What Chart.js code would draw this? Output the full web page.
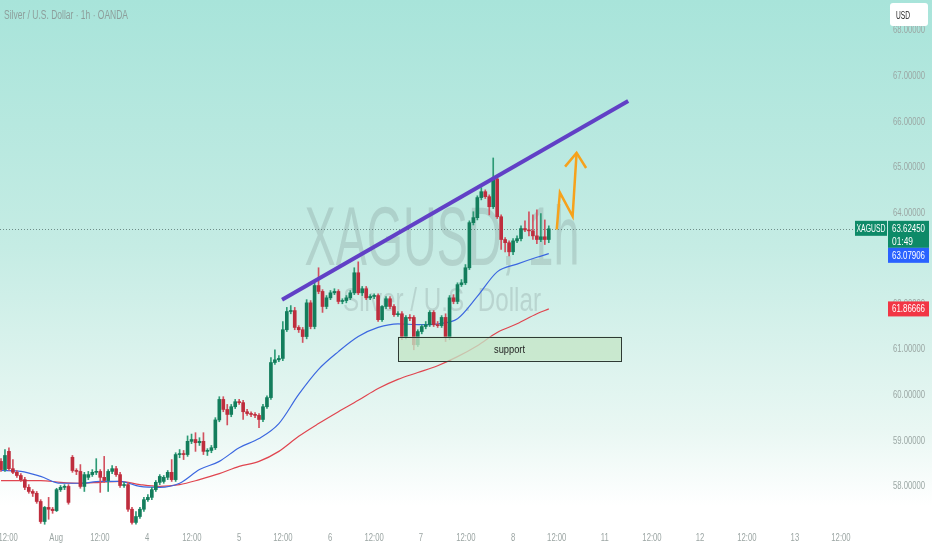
<!DOCTYPE html>
<html>
<head>
<meta charset="utf-8">
<script src="https://cdn.jsdelivr.net/npm/chart.js@4.4.1/dist/chart.umd.min.js"></script>
<style>
  html, body { margin: 0; padding: 0; background: #fff; }
  #contenedor { width: 932px; height: 550px; position: relative; }
</style>
</head>
<body>
<div id="contenedor"><canvas id="grafico"></canvas></div>
<script>
// Velas de 1h XAGUSD (OANDA)
const aperturas = [
  58.52, 58.34, 58.74, 58.36, 58.28, 58.21, 58.12, 57.95, 57.86, 57.82,
  57.64, 57.20, 57.51, 57.47, 57.44, 57.90, 57.95, 57.97, 58.61, 58.32,
  58.30, 57.97, 58.17, 58.23, 58.28, 58.30, 58.17, 58.10, 58.30, 58.36,
  58.23, 57.99, 58.01, 57.47, 57.18, 57.31, 57.47, 57.68, 57.73, 57.90,
  58.06, 58.08, 58.17, 58.28, 58.12, 58.67, 58.69, 58.67, 58.96, 59.00,
  58.93, 58.96, 58.74, 58.76, 58.82, 59.43, 59.88, 59.66, 59.55, 59.72,
  59.83, 59.81, 59.61, 59.57, 59.55, 59.53, 59.44, 59.72, 59.92, 60.69,
  60.75, 60.78, 61.41, 61.81, 61.83, 61.46, 61.41, 61.26, 62.00, 61.48,
  62.38, 62.25, 61.92, 62.11, 62.22, 62.25, 62.03, 62.05, 62.11, 62.22,
  62.66, 62.22, 62.31, 62.11, 62.14, 62.16, 61.63, 61.92, 62.09, 61.92,
  61.74, 61.76, 61.26, 61.68, 61.68, 61.08, 61.37, 61.48, 61.52, 61.79,
  61.52, 61.50, 61.68, 61.24, 62.11, 62.03, 62.40, 62.44, 62.77, 63.76,
  63.87, 64.31, 64.44, 64.33, 64.11, 64.72, 63.89, 63.39, 63.32, 63.12,
  63.36, 63.41, 63.63, 63.60, 63.58, 63.47, 63.39, 63.45, 63.39
];
const maximos = [
  58.58, 58.78, 58.82, 58.56, 58.32, 58.25, 58.17, 58.01, 57.90, 57.86,
  57.68, 57.53, 57.73, 57.51, 57.93, 57.99, 58.01, 58.01, 58.65, 58.36,
  58.45, 58.28, 58.30, 58.34, 58.58, 58.34, 58.63, 58.34, 58.43, 58.41,
  58.28, 58.06, 58.06, 57.51, 57.42, 57.51, 57.73, 57.79, 57.95, 58.10,
  58.23, 58.21, 58.32, 58.56, 58.71, 58.78, 58.76, 59.08, 59.12, 59.15,
  59.04, 59.15, 58.80, 58.87, 59.48, 59.94, 59.94, 59.77, 59.77, 59.88,
  59.88, 59.86, 59.66, 59.61, 59.59, 59.57, 59.77, 59.96, 60.80, 60.97,
  60.84, 61.59, 61.90, 61.94, 61.90, 61.50, 61.46, 62.07, 62.05, 62.44,
  62.77, 62.29, 62.16, 62.27, 62.31, 62.29, 62.09, 62.16, 62.27, 62.77,
  62.90, 62.36, 62.36, 62.18, 62.20, 62.20, 61.94, 62.14, 62.14, 61.96,
  61.81, 61.81, 61.72, 61.74, 61.72, 61.41, 61.52, 61.59, 61.83, 61.83,
  61.59, 61.72, 61.76, 62.16, 62.18, 62.44, 62.51, 62.84, 63.80, 64.00,
  64.35, 64.53, 64.48, 64.37, 65.18, 64.79, 63.93, 63.43, 63.36, 63.41,
  63.47, 63.69, 63.80, 64.00, 63.93, 64.04, 63.96, 63.82, 63.69
];
const minimos = [
  58.30, 58.30, 58.32, 58.25, 58.17, 58.08, 57.90, 57.82, 57.75, 57.60,
  57.16, 57.14, 57.25, 57.38, 57.42, 57.86, 57.90, 57.58, 58.28, 58.23,
  57.93, 57.86, 58.12, 58.19, 58.23, 57.84, 58.06, 57.86, 58.25, 58.19,
  57.95, 57.95, 57.42, 57.14, 57.14, 57.27, 57.42, 57.64, 57.68, 57.86,
  58.01, 58.04, 58.12, 58.08, 58.08, 58.60, 58.56, 58.63, 58.91, 58.74,
  58.87, 58.67, 58.65, 58.71, 58.78, 59.39, 59.61, 59.32, 59.50, 59.68,
  59.77, 59.44, 59.53, 59.50, 59.48, 59.26, 59.39, 59.68, 59.88, 60.65,
  60.71, 60.73, 61.37, 61.76, 61.41, 61.35, 61.13, 61.21, 61.43, 61.43,
  62.20, 61.79, 61.87, 62.07, 62.18, 61.98, 61.98, 62.00, 62.07, 62.18,
  62.18, 62.16, 62.07, 62.07, 62.09, 61.59, 61.59, 61.87, 61.87, 61.70,
  61.70, 61.19, 61.21, 61.61, 60.97, 61.04, 61.32, 61.43, 61.48, 61.48,
  61.46, 61.46, 61.15, 61.19, 61.98, 61.98, 62.36, 62.40, 62.73, 63.71,
  63.82, 64.26, 64.29, 63.93, 64.07, 63.85, 63.17, 63.12, 63.03, 63.06,
  63.32, 63.36, 63.56, 63.47, 63.39, 63.30, 63.34, 63.28, 63.32
];
const cierres = [
  58.34, 58.65, 58.36, 58.28, 58.21, 58.12, 57.95, 57.86, 57.82, 57.64,
  57.20, 57.51, 57.47, 57.44, 57.90, 57.95, 57.97, 57.62, 58.32, 58.30,
  57.97, 58.23, 58.23, 58.28, 58.30, 58.17, 58.10, 58.30, 58.36, 58.23,
  57.99, 58.01, 57.47, 57.18, 57.31, 57.47, 57.68, 57.73, 57.90, 58.06,
  58.19, 58.17, 58.28, 58.12, 58.67, 58.69, 58.67, 58.96, 59.00, 58.93,
  58.96, 58.74, 58.76, 58.82, 59.43, 59.88, 59.66, 59.55, 59.72, 59.83,
  59.81, 59.61, 59.57, 59.55, 59.53, 59.44, 59.72, 59.92, 60.69, 60.75,
  60.78, 61.41, 61.81, 61.83, 61.46, 61.41, 61.26, 62.00, 61.48, 62.38,
  62.25, 61.92, 62.11, 62.22, 62.25, 62.03, 62.05, 62.11, 62.22, 62.66,
  62.22, 62.31, 62.11, 62.14, 62.16, 61.63, 61.92, 62.09, 61.92, 61.74,
  61.76, 61.26, 61.68, 61.66, 61.08, 61.37, 61.48, 61.52, 61.79, 61.52,
  61.50, 61.68, 61.24, 62.11, 62.03, 62.40, 62.44, 62.77, 63.76, 63.87,
  64.31, 64.44, 64.33, 64.11, 64.72, 63.89, 63.39, 63.32, 63.12, 63.36,
  63.41, 63.63, 63.60, 63.58, 63.47, 63.39, 63.45, 63.39, 63.6245
];

// Medias moviles (indice de vela -> valor)
const mediaIdx = [0, 5, 10, 15, 20, 25, 30, 35, 40, 45, 50, 55, 60, 65, 70, 75, 80, 85, 90, 95, 100, 105, 110, 115, 120, 125, 130, 135, 138];
const mediaAzul = [58.32, 58.30, 58.19, 58.04, 58.04, 58.08, 58.08, 57.97, 57.95, 58.04, 58.34, 58.52, 58.82, 59.02, 59.35, 59.99, 60.54, 60.93, 61.26, 61.46, 61.54, 61.52, 61.54, 61.65, 62.14, 62.68, 62.85, 63.00, 63.07906];
const mediaRoja = [58.10, 58.10, 58.10, 58.06, 58.04, 58.06, 58.08, 58.01, 57.97, 58.01, 58.12, 58.25, 58.41, 58.52, 58.74, 59.07, 59.35, 59.61, 59.86, 60.12, 60.32, 60.47, 60.62, 60.82, 61.06, 61.35, 61.54, 61.76, 61.86666];

// Eje de tiempo (posicion en velas) y eje de precios
const horasIdx = [1.8, 13.9, 24.9, 36.8, 48.1, 60, 71, 82.9, 94, 105.8, 117.1, 129, 140, 152.1, 164, 176.1, 187.9, 200, 211.6];
const horasTxt = ["12:00", "Aug", "12:00", "4", "12:00", "5", "12:00", "6", "12:00", "7", "12:00", "8", "12:00", "11", "12:00", "12", "12:00", "13", "12:00"];
const precios = [58, 59, 60, 61, 62, 63, 64, 65, 66, 67, 68];

// Dibujos del analista
const tendenciaX = [70.8, 158];
const tendenciaY = [62.07, 66.43];
const flechaX = [140.0, 140.8, 144.0, 145.0];
const flechaY = [63.61, 64.42, 63.90, 65.29];
const puntaX = [142.1, 145.0, 147.4];
const puntaY = [64.99, 65.29, 64.96];
const soporte = { desde: 100, hasta: 156.2, arriba: 61.26, abajo: 60.73 };

const VERDE = "#137d5c";
const ROJO = "#be2d3d";
const LETRA = "'Liberation Sans', sans-serif";

//Convierte arreglos x,y en puntos
function puntos(xs, ys) {
  return xs.map((x, i) => ({ x: x, y: ys[i] }));
}

//Escribe un texto estrechado horizontalmente
function textoEscala(ctx, txt, x, y, escala, font, color, alin) {
  ctx.save();
  ctx.font = font;
  ctx.fillStyle = color;
  ctx.textBaseline = "alphabetic";
  ctx.textAlign = alin || "left";
  ctx.translate(x, y);
  ctx.scale(escala, 1);
  ctx.fillText(txt, 0, 0);
  ctx.restore();
}

//Escribe un texto ajustado a un ancho dado
function textoAncho(ctx, txt, x, y, ancho, font, color, alin) {
  ctx.save();
  ctx.font = font;
  const w = ctx.measureText(txt).width;
  ctx.restore();
  textoEscala(ctx, txt, x, y, ancho / w, font, color, alin);
}

const cuerpos = cierres.map((c, i) => ({ x: i, y: [aperturas[i], c] }));
const mechas = cierres.map((c, i) => ({ x: i, y: [minimos[i], maximos[i]] }));
const colores = cierres.map((c, i) => (c >= aperturas[i] ? VERDE : ROJO));
const coloresMecha = cierres.map((c, i) => (c >= aperturas[i] ? "#2c9a75" : "#d2505e"));

//Fondo degradado, marca de agua, titulo y etiquetas
const fondo = {
  id: "fondo",
  beforeDraw(chart) {
    const ctx = chart.ctx;
    const g = ctx.createLinearGradient(0, 0, 0, chart.height);
    g.addColorStop(0, "#a8e4da");
    g.addColorStop(0.45, "#c5ece4");
    g.addColorStop(0.78, "#e9f7f3");
    g.addColorStop(0.92, "#ffffff");
    ctx.save();
    ctx.fillStyle = g;
    ctx.fillRect(0, 0, chart.width, chart.height);
    ctx.restore();
  },
  beforeDatasetsDraw(chart) {
    const ctx = chart.ctx;
    const sy = chart.scales.y;
    textoAncho(ctx, "XAGUSD, 1h", 442, 265, 275, "83px " + LETRA, "rgba(105,120,120,0.22)", "center");
    textoAncho(ctx, "Silver / U.S. Dollar", 442, 311, 198, "33px " + LETRA, "rgba(105,120,120,0.22)", "center");
    textoAncho(ctx, "Silver / U.S. Dollar \u00b7 1h \u00b7 OANDA", 4, 19, 124, "12px " + LETRA, "#8d9e9b", "left");
    // linea punteada del ultimo precio
    const y = sy.getPixelForValue(cierres[cierres.length - 1]);
    ctx.save();
    ctx.strokeStyle = "rgba(80,110,105,0.75)";
    ctx.lineWidth = 1;
    ctx.setLineDash([1, 2]);
    ctx.beginPath();
    ctx.moveTo(0, Math.round(y) + 0.5);
    ctx.lineTo(855, Math.round(y) + 0.5);
    ctx.stroke();
    ctx.restore();
  },
  afterDatasetsDraw(chart) {
    const ctx = chart.ctx;
    const sx = chart.scales.x;
    const sy = chart.scales.y;
    const x0 = sx.getPixelForValue(soporte.desde);
    const x1 = sx.getPixelForValue(soporte.hasta);
    const y0 = sy.getPixelForValue(soporte.arriba);
    const y1 = sy.getPixelForValue(soporte.abajo);
    ctx.save();
    ctx.fillStyle = "rgba(196,230,198,0.78)";
    ctx.fillRect(x0, y0, x1 - x0, y1 - y0);
    ctx.strokeStyle = "#2e3a34";
    ctx.lineWidth = 1;
    ctx.strokeRect(Math.round(x0) + 0.5, Math.round(y0) + 0.5, Math.round(x1 - x0), Math.round(y1 - y0));
    ctx.restore();
    textoAncho(ctx, "support", (x0 + x1) / 2, (y0 + y1) / 2 + 4, 31, "11px " + LETRA, "#1e1e1e", "center");
  },
  afterDraw(chart) {
    const ctx = chart.ctx;
    const sx = chart.scales.x;
    const sy = chart.scales.y;
    const f = "10px " + LETRA;
    const fe = "11px " + LETRA;
    // etiquetas de los ejes (ticks del propio eje)
    sx.ticks.forEach((t, i) => {
      textoEscala(ctx, horasTxt[i], sx.getPixelForValue(t.value), 541, 0.7, fe, "#9ba5a3", "center");
    });
    sy.ticks.forEach((t) => {
      textoEscala(ctx, t.value.toFixed(5), 893, sy.getPixelForValue(t.value) + 4, 0.7, fe, "#9ba7a4", "left");
    });
    const bx = 888, bw = 41;
    const yUlt = sy.getPixelForValue(cierres[cierres.length - 1]);
    const yAzul = sy.getPixelForValue(mediaAzul[mediaAzul.length - 1]);
    const yRoja = sy.getPixelForValue(mediaRoja[mediaRoja.length - 1]);
    ctx.save();
    // simbolo
    ctx.fillStyle = "#0e8a68";
    ctx.fillRect(855, yUlt - 8, 32, 15);
    textoAncho(ctx, "XAGUSD", 871, yUlt + 3.5, 29, f, "#ffffff", "center");
    // ultimo precio + cuenta regresiva
    ctx.fillStyle = "#0e8a68";
    ctx.fillRect(bx, yUlt - 8, bw, 27);
    textoAncho(ctx, cierres[cierres.length - 1].toFixed(5), bx + 4, yUlt + 3.5, 33, f, "#ffffff", "left");
    textoAncho(ctx, "01:49", bx + 4, yUlt + 16.5, 21, f, "#ffffff", "left");
    // media azul
    const topAzul = Math.max(yAzul - 7.5, yUlt + 19);
    ctx.fillStyle = "#2962ff";
    ctx.fillRect(bx, topAzul, bw, 15);
    textoAncho(ctx, mediaAzul[mediaAzul.length - 1].toFixed(5), bx + 4, topAzul + 11, 33, f, "#ffffff", "left");
    // media roja
    ctx.fillStyle = "#f23645";
    ctx.fillRect(bx, yRoja - 7.5, bw, 15);
    textoAncho(ctx, mediaRoja[mediaRoja.length - 1].toFixed(5), bx + 4, yRoja + 3.5, 33, f, "#ffffff", "left");
    // caja de moneda
    ctx.fillStyle = "#ffffff";
    ctx.beginPath();
    ctx.roundRect(890, 3, 38, 23, 3);
    ctx.fill();
    ctx.restore();
    textoAncho(ctx, "USD", 896, 19, 14, f, "#1f1f1f", "left");
  },
};

const ctx = document.getElementById("grafico").getContext("2d");
const grafico = new Chart(ctx, {
  type: "bar",
  data: {
    datasets: [
      {
        type: "line",
        data: puntos(tendenciaX, tendenciaY),
        borderColor: "#6140c6",
        borderWidth: 4,
        pointRadius: 0,
        order: 0,
      },
      {
        type: "line",
        data: puntos(flechaX, flechaY),
        borderColor: "#f6a21c",
        borderWidth: 2.5,
        pointRadius: 0,
        order: 0,
      },
      {
        type: "line",
        data: puntos(puntaX, puntaY),
        borderColor: "#f6a21c",
        borderWidth: 2.5,
        pointRadius: 0,
        order: 0,
      },
      {
        data: cuerpos,
        backgroundColor: colores,
        barThickness: 3,
        minBarLength: 1,
        grouped: false,
        order: 1,
      },
      {
        data: mechas,
        backgroundColor: coloresMecha,
        barThickness: 1,
        grouped: false,
        order: 2,
      },
      {
        type: "line",
        data: puntos(mediaIdx, mediaAzul),
        borderColor: "#3b67e0",
        borderWidth: 1.2,
        pointRadius: 0,
        cubicInterpolationMode: "monotone",
        order: 3,
      },
      {
        type: "line",
        data: puntos(mediaIdx, mediaRoja),
        borderColor: "#e0454f",
        borderWidth: 1.2,
        pointRadius: 0,
        cubicInterpolationMode: "monotone",
        order: 3,
      },
    ],
  },
  options: {
    responsive: true,
    maintainAspectRatio: false,
    animation: false,
    devicePixelRatio: 1,
    layout: { padding: 0 },
    plugins: { legend: { display: false }, tooltip: { enabled: false } },
    scales: {
      x: {
        type: "linear",
        min: -0.25,
        max: 223.2,
        offset: false,
        grid: { display: false, drawTicks: false },
        border: { display: false },
        afterBuildTicks: (s) => {
          s.ticks = horasIdx.map((v) => ({ value: v }));
        },
        afterFit: (s) => {
          s.height = 23;
          s.paddingLeft = 0;
          s.paddingRight = 0;
        },
        ticks: { display: false, autoSkip: false, callback: (v, i) => horasTxt[i] },
      },
      y: {
        position: "right",
        min: 57.08,
        max: 68.647,
        grid: { display: false, drawTicks: false },
        border: { display: false },
        afterBuildTicks: (s) => {
          s.ticks = precios.map((v) => ({ value: v }));
        },
        afterFit: (s) => {
          s.width = 45;
          s.paddingTop = 0;
          s.paddingBottom = 0;
        },
        ticks: { display: false, callback: (v) => Number(v).toFixed(5) },
      },
    },
  },
  plugins: [fondo],
});
</script>
</body>
</html>
